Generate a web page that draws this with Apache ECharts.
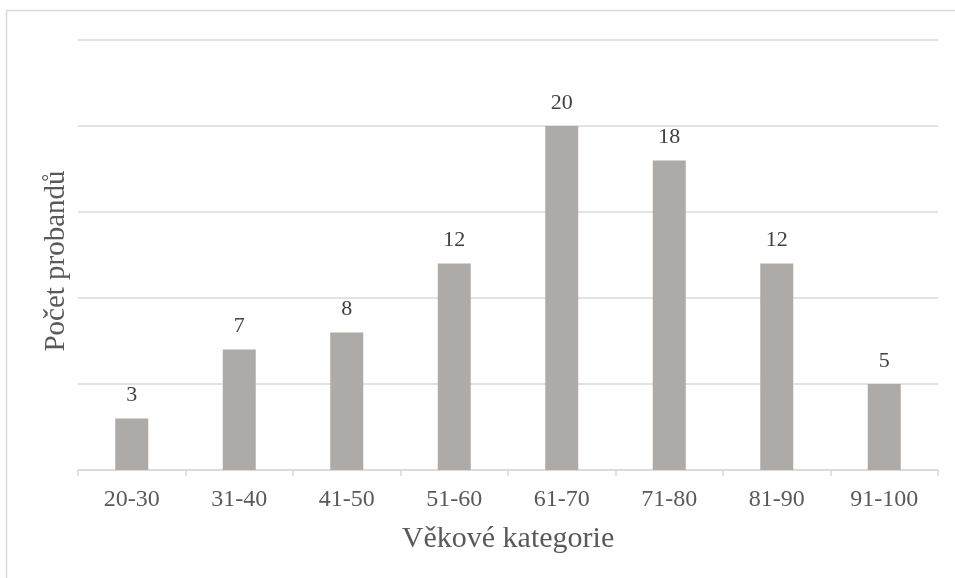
<!DOCTYPE html>
<html><head><meta charset="utf-8">
<script src="https://cdn.jsdelivr.net/npm/echarts@6/dist/echarts.min.js"></script>
<style>html,body{margin:0;padding:0;background:#fff}#c{width:955px;height:578px}</style>
</head><body><div id="c"></div>
<script>
const categories = ['20-30','31-40','41-50','51-60','61-70','71-80','81-90','91-100'];
const values = [3,7,8,12,20,18,12,5];
const yMax = 25, yInterval = 5;
const font = '"Liberation Serif","Times New Roman",serif';
const chart = echarts.init(document.getElementById('c'));
chart.setOption({
  animation:false,
  graphic:[{type:'rect',shape:{x:6.5,y:10.5,width:1000,height:1000},style:{fill:'none',stroke:'#d9d9d9',lineWidth:1.5},silent:true}],
  grid:{left:78,right:17,top:40,bottom:108,containLabel:false},
  xAxis:{type:'category',data:categories,
    axisLine:{lineStyle:{color:'#d9d9d9',width:1.5}},
    axisTick:{show:true,length:6,lineStyle:{color:'#d9d9d9',width:1.5}},
    axisLabel:{color:'#595959',fontFamily:font,fontSize:24,margin:18},
    name:'Věkové kategorie',nameLocation:'middle',nameGap:54,
    nameTextStyle:{color:'#595959',fontFamily:font,fontSize:30}},
  yAxis:{type:'value',min:0,max:yMax,interval:yInterval,
    axisLabel:{show:false},axisLine:{show:false},axisTick:{show:false},
    splitLine:{lineStyle:{color:'#d9d9d9',width:1.5}},
    name:'Počet probandů',nameLocation:'middle',nameGap:7,nameRotate:90,
    nameTextStyle:{color:'#595959',fontFamily:font,fontSize:29,padding:[0,12,0,0]}},
  series:[{type:'bar',data:values,barWidth:33,
    itemStyle:{color:'#aeaaa8'},
    label:{show:true,position:'top',distance:12,color:'#404040',fontFamily:font,fontSize:22}}]
});
</script></body></html>
